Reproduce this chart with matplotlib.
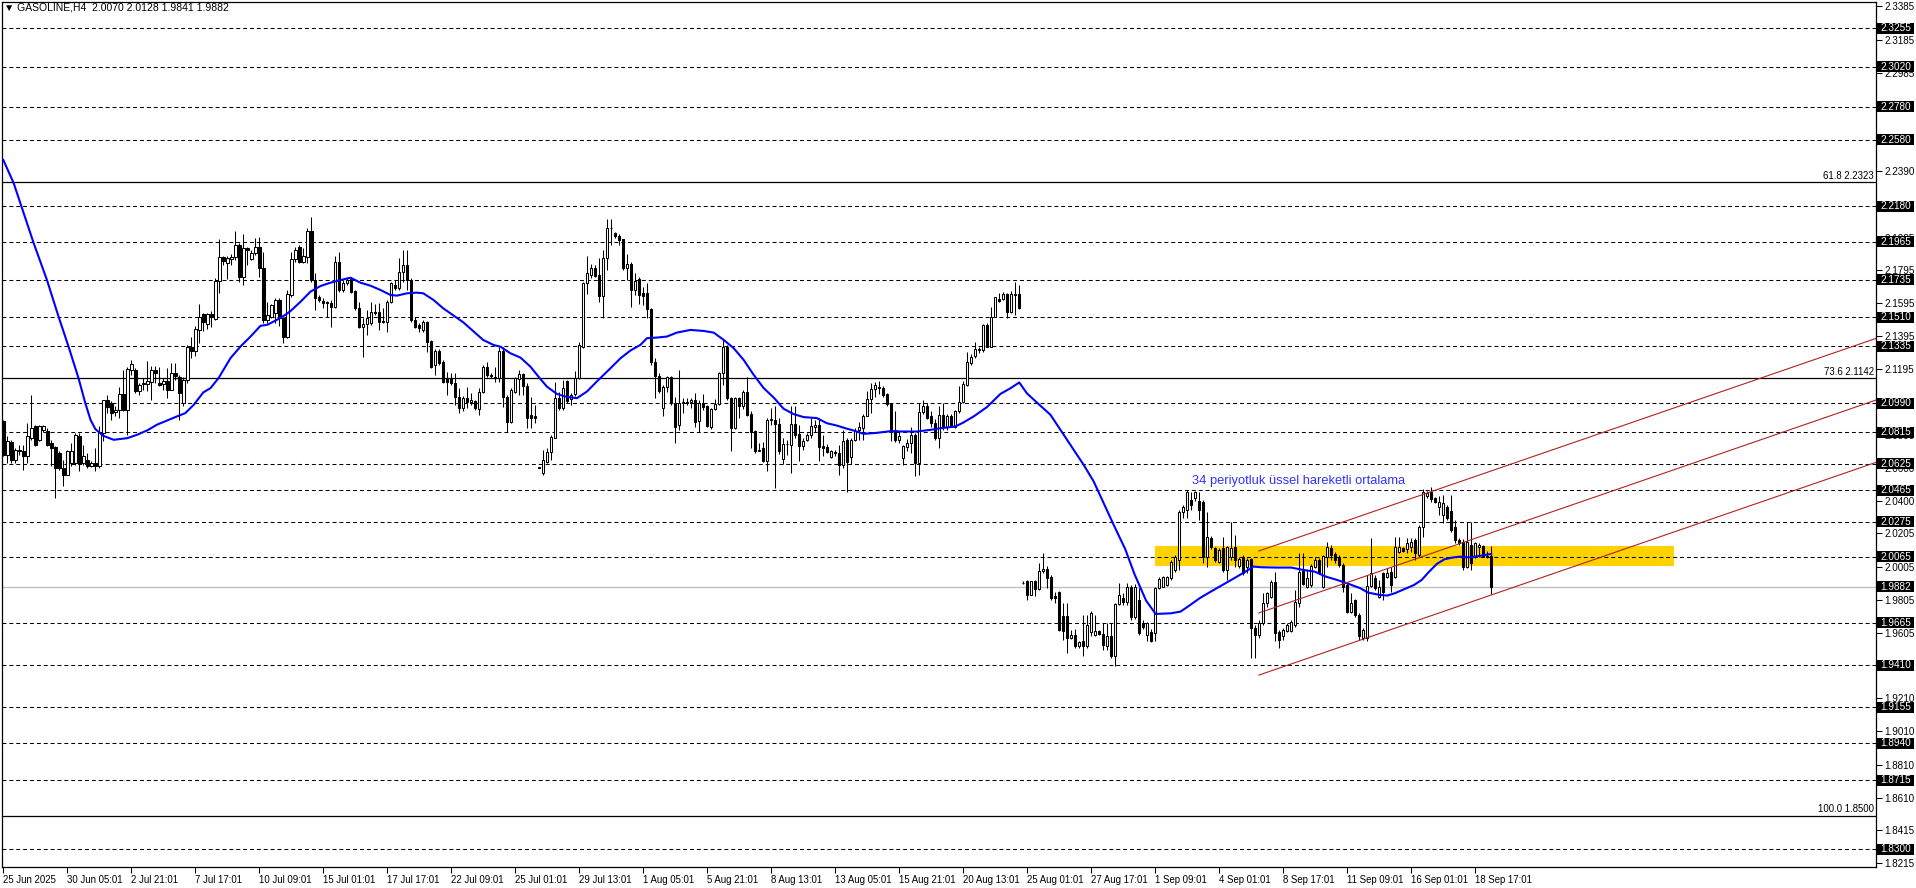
import numpy as np
import matplotlib
matplotlib.use("Agg")
import matplotlib.pyplot as plt
from matplotlib.patches import Rectangle
from matplotlib.transforms import blended_transform_factory

plt.rcParams['font.family'] = ['Liberation Sans', 'DejaVu Sans']

# H4 candles, one entry per bar
opens = [
    2.0881, 2.0680, 2.0754, 2.0650, 2.0710, 2.0704, 2.0670, 2.0780, 2.0851, 2.0770,
    2.0827, 2.0825, 2.0750, 2.0724, 2.0690, 2.0599, 2.0559, 2.0630, 2.0630, 2.0794,
    2.0630, 2.0650, 2.0614, 2.0630, 2.0610, 2.0810, 2.1012, 2.0992, 2.0937, 2.0951,
    2.1046, 2.0951, 2.1192, 2.1192, 2.1062, 2.1106, 2.1106, 2.1118, 2.1192, 2.1112,
    2.1106, 2.1126, 2.1068, 2.1172, 2.1150, 2.0991, 2.1132, 2.1333, 2.1303, 2.1434,
    2.1528, 2.1470, 2.1528, 2.1498, 2.1731, 2.1872, 2.1836, 2.1862, 2.1876, 2.1946,
    2.1755, 2.1930, 2.1862, 2.1896, 2.1932, 2.1805, 2.1494, 2.1514, 2.1534, 2.1614,
    2.1504, 2.1392, 2.1644, 2.1859, 2.1935, 2.1845, 2.1875, 2.2030, 2.1734, 2.1634,
    2.1608, 2.1599, 2.1597, 2.1569, 2.1845, 2.1674, 2.1714, 2.1744, 2.1668, 2.1567,
    2.1453, 2.1467, 2.1473, 2.1543, 2.1543, 2.1487, 2.1479, 2.1599, 2.1704, 2.1688,
    2.1784, 2.1825, 2.1734, 2.1493, 2.1463, 2.1433, 2.1479, 2.1366, 2.1221, 2.1306,
    2.1242, 2.1145, 2.1145, 2.1111, 2.1031, 2.0964, 2.1024, 2.1000, 2.1004, 2.0956,
    2.1057, 2.1211, 2.1161, 2.1151, 2.1141, 2.1306, 2.1031, 2.0880, 2.1061, 2.1137,
    2.1165, 2.1097, 2.0920, 2.0914, 2.0603, 2.0568, 2.0639, 2.0695, 2.0783, 2.1021,
    2.0960, 2.1126, 2.1017, 2.1045, 2.1142, 2.1333, 2.1715, 2.1765, 2.1809, 2.1765,
    2.1640, 2.1865, 2.2046, 2.2016, 2.2002, 2.1980, 2.1805, 2.1829, 2.1674, 2.1741,
    2.1654, 2.1654, 2.1560, 2.1238, 2.1158, 2.0961, 2.1091, 2.1148, 2.0991, 2.0860,
    2.0991, 2.0999, 2.0997, 2.1011, 2.0884, 2.0991, 2.0971, 2.0850, 2.0957, 2.0985,
    2.1172, 2.1333, 2.1021, 2.0844, 2.1021, 2.0971, 2.1061, 2.0925, 2.0824, 2.0704,
    2.0720, 2.0643, 2.0891, 2.0891, 2.0864, 2.0655, 2.0744, 2.0740, 2.0864, 2.0804,
    2.0730, 2.0770, 2.0796, 2.0850, 2.0860, 2.0730, 2.0724, 2.0668, 2.0696, 2.0690,
    2.0615, 2.0770, 2.0669, 2.0770, 2.0830, 2.0840, 2.0915, 2.1015, 2.1075, 2.1088,
    2.1082, 2.1047, 2.0991, 2.0830, 2.0770, 2.0659, 2.0726, 2.0750, 2.0796, 2.0633,
    2.0935, 2.0975, 2.0911, 2.0874, 2.0780, 2.0921, 2.0850, 2.0911, 2.0850, 2.0941,
    2.1001, 2.1102, 2.1232, 2.1276, 2.1309, 2.1309, 2.1463, 2.1333, 2.1514, 2.1618,
    2.1618, 2.1650, 2.1544, 2.1650, 2.1650, 1.9906, 1.9916, 1.9835, 1.9916, 1.9870,
    1.9976, 1.9990, 1.9942, 1.9825, 1.9849, 1.9705, 1.9705, 1.9574, 1.9594, 1.9524,
    1.9554, 1.9524, 1.9608, 1.9594, 1.9614, 1.9600, 1.9524, 1.9588, 1.9464, 1.9781,
    1.9815, 1.9789, 1.9884, 1.9703, 1.9804, 1.9667, 1.9593, 1.9613, 1.9607, 1.9878,
    1.9884, 1.9892, 1.9934, 1.9985, 2.0045, 2.0336, 2.0346, 2.0407, 2.0417, 2.0403,
    2.0397, 2.0065, 2.0176, 2.0116, 2.0035, 2.0116, 1.9985, 2.0065, 2.0121, 2.0009,
    2.0065, 2.0001, 2.0049, 1.9633, 1.9593, 1.9663, 1.9784, 1.9824, 1.9914, 1.9613,
    1.9583, 1.9619, 1.9619, 1.9653, 1.9784, 1.9979, 1.9884, 1.9894, 2.0001, 2.0045,
    1.9884, 2.0065, 2.0115, 2.0081, 2.0065, 2.0015, 1.9894, 1.9733, 1.9804, 1.9713,
    1.9573, 1.9573, 1.9888, 1.9935, 1.9824, 1.9965, 1.9945, 1.9975, 1.9945, 2.0095,
    2.0115, 2.0109, 2.0125, 2.0166, 2.0075, 2.0246, 2.0431, 2.0457, 2.0417, 2.0367,
    2.0316, 2.0367, 2.0342, 2.0246, 2.0166, 2.0156, 2.0005, 2.0136, 2.0065, 2.0121,
    2.0129, 2.0065, 2.0070,
]
highs = [
    2.0891, 2.0790, 2.0770, 2.0720, 2.0740, 2.0740, 2.0871, 2.1042, 2.0861, 2.0861,
    2.0861, 2.0841, 2.0770, 2.0730, 2.0700, 2.0650, 2.0710, 2.0750, 2.0810, 2.0810,
    2.0740, 2.0690, 2.0640, 2.0720, 2.0851, 2.1012, 2.1042, 2.1002, 2.0971, 2.1088,
    2.1192, 2.1212, 2.1249, 2.1202, 2.1112, 2.1142, 2.1243, 2.1217, 2.1218, 2.1209,
    2.1142, 2.1203, 2.1233, 2.1233, 2.1160, 2.1152, 2.1343, 2.1393, 2.1454, 2.1590,
    2.1534, 2.1538, 2.1550, 2.1745, 2.1980, 2.1880, 2.1880, 2.1892, 2.2031, 2.1956,
    2.2012, 2.1936, 2.1916, 2.1986, 2.1992, 2.1906, 2.1604, 2.1590, 2.1624, 2.1624,
    2.1514, 2.1674, 2.1905, 2.1931, 2.1945, 2.1925, 2.2046, 2.2116, 2.1774, 2.1644,
    2.1628, 2.1608, 2.1613, 2.1879, 2.1905, 2.1734, 2.1754, 2.1754, 2.1674, 2.1603,
    2.1503, 2.1553, 2.1599, 2.1587, 2.1593, 2.1563, 2.1613, 2.1724, 2.1734, 2.1865,
    2.1915, 2.1915, 2.1744, 2.1513, 2.1473, 2.1493, 2.1487, 2.1372, 2.1316, 2.1316,
    2.1252, 2.1181, 2.1171, 2.1171, 2.1081, 2.1034, 2.1091, 2.1051, 2.1010, 2.1081,
    2.1221, 2.1242, 2.1171, 2.1211, 2.1332, 2.1332, 2.1041, 2.1081, 2.1151, 2.1191,
    2.1171, 2.1111, 2.1031, 2.0980, 2.0605, 2.0709, 2.0723, 2.0799, 2.1121, 2.1061,
    2.1131, 2.1132, 2.1055, 2.1188, 2.1363, 2.1725, 2.1879, 2.1829, 2.1825, 2.1865,
    2.1916, 2.2103, 2.2103, 2.2026, 2.2010, 2.1982, 2.1889, 2.1845, 2.1775, 2.1755,
    2.1695, 2.1715, 2.1564, 2.1262, 2.1172, 2.1102, 2.1154, 2.1158, 2.1031, 2.1192,
    2.1025, 2.1025, 2.1025, 2.1051, 2.1011, 2.1047, 2.0981, 2.0961, 2.1015, 2.1182,
    2.1373, 2.1343, 2.1031, 2.1031, 2.1031, 2.1071, 2.1146, 2.0941, 2.0830, 2.0750,
    2.0756, 2.0901, 2.0961, 2.0971, 2.0901, 2.0780, 2.0770, 2.0971, 2.0971, 2.0860,
    2.0780, 2.0810, 2.0901, 2.0891, 2.0901, 2.0800, 2.0744, 2.0710, 2.0710, 2.0740,
    2.0830, 2.0780, 2.0780, 2.0840, 2.0880, 2.0927, 2.1065, 2.1112, 2.1116, 2.1122,
    2.1092, 2.1051, 2.0995, 2.0941, 2.0820, 2.0740, 2.0774, 2.0850, 2.0810, 2.0991,
    2.1011, 2.0995, 2.0941, 2.0895, 2.0971, 2.0991, 2.0927, 2.0927, 2.0951, 2.1092,
    2.1122, 2.1297, 2.1288, 2.1363, 2.1329, 2.1470, 2.1473, 2.1574, 2.1634, 2.1654,
    2.1664, 2.1658, 2.1670, 2.1725, 2.1705, 1.9916, 1.9926, 1.9920, 1.9926, 2.0026,
    2.0087, 2.0006, 1.9956, 1.9849, 1.9855, 1.9785, 1.9785, 1.9624, 1.9628, 1.9558,
    1.9715, 1.9715, 1.9735, 1.9715, 1.9624, 1.9664, 1.9664, 1.9664, 1.9785, 1.9906,
    1.9845, 1.9904, 1.9894, 1.9900, 1.9874, 1.9680, 1.9670, 1.9630, 1.9884, 1.9944,
    1.9950, 1.9950, 2.0045, 2.0075, 2.0346, 2.0377, 2.0467, 2.0457, 2.0463, 2.0457,
    2.0407, 2.0336, 2.0190, 2.0126, 2.0115, 2.0186, 2.0129, 2.0276, 2.0196, 2.0065,
    2.0075, 2.0055, 2.0055, 1.9653, 1.9683, 1.9844, 1.9854, 1.9924, 1.9975, 1.9623,
    1.9633, 1.9663, 1.9683, 1.9864, 2.0085, 2.0085, 1.9985, 2.0019, 2.0065, 2.0055,
    2.0075, 2.0156, 2.0136, 2.0095, 2.0075, 2.0025, 1.9904, 1.9844, 1.9808, 1.9723,
    1.9633, 1.9955, 2.0176, 1.9955, 1.9924, 1.9975, 1.9995, 2.0005, 2.0186, 2.0186,
    2.0125, 2.0176, 2.0176, 2.0176, 2.0256, 2.0471, 2.0461, 2.0483, 2.0427, 2.0431,
    2.0437, 2.0377, 2.0437, 2.0286, 2.0176, 2.0170, 2.0276, 2.0276, 2.0156, 2.0146,
    2.0136, 2.0100, 2.0128,
]
lows = [
    2.0670, 2.0630, 2.0630, 2.0630, 2.0680, 2.0589, 2.0630, 2.0770, 2.0730, 2.0760,
    2.0820, 2.0730, 2.0610, 2.0419, 2.0589, 2.0489, 2.0559, 2.0610, 2.0620, 2.0579,
    2.0620, 2.0599, 2.0605, 2.0579, 2.0599, 2.0760, 2.0931, 2.0891, 2.0911, 2.0901,
    2.0941, 2.0800, 2.1162, 2.1052, 2.1042, 2.1072, 2.1062, 2.1012, 2.1112, 2.1092,
    2.1072, 2.1022, 2.1068, 2.1132, 2.0891, 2.0971, 2.1112, 2.1263, 2.1273, 2.1357,
    2.1424, 2.1438, 2.1448, 2.1494, 2.1655, 2.1826, 2.1739, 2.1826, 2.1856, 2.1725,
    2.1705, 2.1826, 2.1856, 2.1886, 2.1755, 2.1474, 2.1474, 2.1504, 2.1474, 2.1454,
    2.1353, 2.1382, 2.1634, 2.1845, 2.1835, 2.1835, 2.1835, 2.1724, 2.1553, 2.1599,
    2.1563, 2.1513, 2.1453, 2.1563, 2.1664, 2.1664, 2.1704, 2.1654, 2.1553, 2.1443,
    2.1272, 2.1402, 2.1463, 2.1523, 2.1433, 2.1473, 2.1423, 2.1593, 2.1674, 2.1674,
    2.1724, 2.1674, 2.1483, 2.1443, 2.1423, 2.1423, 2.1302, 2.1201, 2.1161, 2.1221,
    2.1111, 2.1041, 2.1101, 2.0980, 2.0930, 2.0944, 2.0960, 2.0980, 2.0950, 2.0920,
    2.1051, 2.1151, 2.1145, 2.1121, 2.1121, 2.0970, 2.0816, 2.0870, 2.1051, 2.1041,
    2.1041, 2.0840, 2.0840, 2.0870, 2.0597, 2.0558, 2.0629, 2.0649, 2.0779, 2.0950,
    2.0950, 2.0991, 2.0981, 2.1037, 2.1138, 2.1323, 2.1648, 2.1745, 2.1755, 2.1604,
    2.1504, 2.1795, 2.1946, 2.1986, 2.1946, 2.1795, 2.1735, 2.1574, 2.1644, 2.1588,
    2.1584, 2.1504, 2.1222, 2.1021, 2.1051, 2.0911, 2.1061, 2.0981, 2.0750, 2.0830,
    2.0931, 2.0981, 2.0961, 2.0850, 2.0816, 2.0951, 2.0850, 2.0836, 2.0951, 2.0981,
    2.1102, 2.1011, 2.0704, 2.0836, 2.0901, 2.0957, 2.0911, 2.0720, 2.0690, 2.0700,
    2.0635, 2.0579, 2.0860, 2.0478, 2.0684, 2.0623, 2.0680, 2.0569, 2.0780, 2.0640,
    2.0710, 2.0760, 2.0780, 2.0820, 2.0640, 2.0670, 2.0690, 2.0659, 2.0670, 2.0559,
    2.0599, 2.0458, 2.0625, 2.0760, 2.0770, 2.0766, 2.0911, 2.0931, 2.1031, 2.1047,
    2.1027, 2.0971, 2.0760, 2.0754, 2.0750, 2.0619, 2.0700, 2.0690, 2.0549, 2.0559,
    2.0927, 2.0895, 2.0850, 2.0766, 2.0720, 2.0830, 2.0830, 2.0850, 2.0840, 2.0931,
    2.0995, 2.1092, 2.1222, 2.1262, 2.1293, 2.1301, 2.1329, 2.1329, 2.1510, 2.1604,
    2.1614, 2.1504, 2.1534, 2.1524, 2.1558, 1.9902, 1.9805, 1.9831, 1.9825, 1.9865,
    1.9966, 1.9876, 1.9805, 1.9785, 1.9614, 1.9564, 1.9484, 1.9568, 1.9514, 1.9514,
    1.9464, 1.9514, 1.9584, 1.9584, 1.9594, 1.9504, 1.9504, 1.9453, 1.9403, 1.9775,
    1.9775, 1.9775, 1.9683, 1.9690, 1.9593, 1.9630, 1.9553, 1.9547, 1.9553, 1.9870,
    1.9880, 1.9885, 1.9925, 1.9975, 1.9985, 2.0300, 2.0300, 2.0346, 2.0400, 2.0286,
    2.0025, 2.0005, 2.0110, 2.0035, 2.0025, 1.9975, 1.9924, 2.0045, 2.0005, 1.9995,
    1.9955, 1.9965, 1.9452, 1.9452, 1.9573, 1.9653, 1.9764, 1.9814, 1.9553, 1.9512,
    1.9563, 1.9609, 1.9609, 1.9643, 1.9764, 1.9894, 1.9874, 1.9884, 1.9995, 1.9960,
    1.9874, 2.0005, 2.0045, 2.0025, 2.0005, 1.9854, 1.9723, 1.9723, 1.9703, 1.9563,
    1.9563, 1.9553, 1.9884, 1.9864, 1.9814, 1.9804, 1.9935, 1.9854, 1.9935, 2.0085,
    2.0095, 2.0085, 2.0095, 2.0045, 2.0065, 2.0186, 2.0421, 2.0397, 2.0387, 2.0316,
    2.0266, 2.0286, 2.0216, 2.0146, 2.0136, 1.9985, 1.9995, 1.9985, 2.0055, 2.0065,
    2.0061, 2.0055, 1.9841,
]
closes = [
    2.0680, 2.0760, 2.0650, 2.0710, 2.0700, 2.0670, 2.0790, 2.0841, 2.0740, 2.0851,
    2.0855, 2.0740, 2.0720, 2.0599, 2.0599, 2.0559, 2.0700, 2.0700, 2.0800, 2.0630,
    2.0670, 2.0610, 2.0630, 2.0610, 2.0815, 2.1012, 2.0967, 2.0931, 2.0951, 2.1046,
    2.0951, 2.1198, 2.1227, 2.1062, 2.1102, 2.1112, 2.1122, 2.1192, 2.1176, 2.1102,
    2.1126, 2.1072, 2.1172, 2.1158, 2.1050, 2.1132, 2.1333, 2.1303, 2.1438, 2.1514,
    2.1478, 2.1528, 2.1510, 2.1731, 2.1872, 2.1852, 2.1870, 2.1876, 2.1946, 2.1755,
    2.1930, 2.1916, 2.1898, 2.1936, 2.1805, 2.1494, 2.1524, 2.1584, 2.1614, 2.1504,
    2.1393, 2.1648, 2.1859, 2.1915, 2.1845, 2.1879, 2.2030, 2.1734, 2.1628, 2.1613,
    2.1593, 2.1593, 2.1569, 2.1845, 2.1674, 2.1714, 2.1734, 2.1664, 2.1563, 2.1453,
    2.1467, 2.1507, 2.1543, 2.1533, 2.1483, 2.1479, 2.1599, 2.1714, 2.1684, 2.1784,
    2.1825, 2.1734, 2.1493, 2.1453, 2.1443, 2.1479, 2.1362, 2.1211, 2.1306, 2.1232,
    2.1121, 2.1121, 2.1111, 2.1031, 2.0964, 2.1024, 2.1000, 2.1010, 2.0960, 2.1057,
    2.1211, 2.1161, 2.1155, 2.1145, 2.1306, 2.1031, 2.0880, 2.1071, 2.1141, 2.1165,
    2.1097, 2.0904, 2.0904, 2.0900, 2.0599, 2.0649, 2.0699, 2.0789, 2.1021, 2.0960,
    2.1081, 2.1005, 2.1041, 2.1142, 2.1343, 2.1715, 2.1775, 2.1805, 2.1761, 2.1640,
    2.1865, 2.2050, 2.2050, 2.2002, 2.1976, 2.1805, 2.1829, 2.1674, 2.1729, 2.1644,
    2.1640, 2.1560, 2.1238, 2.1158, 2.1065, 2.1091, 2.1148, 2.0991, 2.0850, 2.0991,
    2.1001, 2.0991, 2.1011, 2.0880, 2.0991, 2.0965, 2.0856, 2.0957, 2.0985, 2.1172,
    2.1333, 2.1021, 2.0844, 2.1021, 2.0971, 2.1061, 2.0917, 2.0820, 2.0704, 2.0710,
    2.0643, 2.0891, 2.0897, 2.0864, 2.0700, 2.0744, 2.0744, 2.0864, 2.0800, 2.0730,
    2.0764, 2.0796, 2.0856, 2.0860, 2.0724, 2.0720, 2.0696, 2.0700, 2.0688, 2.0615,
    2.0760, 2.0639, 2.0766, 2.0826, 2.0846, 2.0915, 2.1015, 2.1075, 2.1102, 2.1082,
    2.1041, 2.0985, 2.0830, 2.0770, 2.0790, 2.0730, 2.0750, 2.0796, 2.0633, 2.0937,
    2.0971, 2.0901, 2.0870, 2.0780, 2.0921, 2.0850, 2.0911, 2.0860, 2.0941, 2.1001,
    2.1108, 2.1242, 2.1268, 2.1317, 2.1317, 2.1463, 2.1333, 2.1514, 2.1630, 2.1610,
    2.1650, 2.1544, 2.1650, 2.1644, 2.1564, 1.9906, 1.9835, 1.9916, 1.9870, 1.9976,
    1.9990, 1.9936, 1.9815, 1.9815, 1.9624, 1.9614, 1.9574, 1.9594, 1.9524, 1.9548,
    1.9524, 1.9654, 1.9725, 1.9614, 1.9600, 1.9534, 1.9584, 1.9464, 1.9781, 1.9835,
    1.9789, 1.9884, 1.9703, 1.9884, 1.9603, 1.9643, 1.9663, 1.9553, 1.9878, 1.9928,
    1.9940, 1.9940, 2.0035, 2.0061, 2.0336, 2.0367, 2.0457, 2.0377, 2.0453, 2.0346,
    2.0065, 2.0182, 2.0126, 2.0045, 2.0105, 1.9985, 2.0121, 2.0119, 2.0045, 2.0049,
    1.9965, 2.0045, 1.9633, 1.9593, 1.9663, 1.9784, 1.9844, 1.9914, 1.9607, 1.9563,
    1.9623, 1.9653, 1.9673, 1.9794, 1.9975, 1.9900, 1.9934, 2.0009, 2.0045, 1.9969,
    2.0069, 2.0121, 2.0075, 2.0045, 2.0015, 1.9884, 1.9733, 1.9784, 1.9713, 1.9583,
    1.9623, 1.9888, 1.9965, 1.9874, 1.9884, 1.9854, 1.9965, 1.9894, 2.0121, 2.0121,
    2.0101, 2.0146, 2.0156, 2.0085, 2.0246, 2.0457, 2.0447, 2.0411, 2.0397, 2.0397,
    2.0387, 2.0296, 2.0226, 2.0166, 2.0146, 2.0005, 2.0156, 2.0025, 2.0146, 2.0136,
    2.0065, 2.0070, 1.9882,
]

# 34-period EMA (bar index, value)
ema_bars = [
    0, 2.6, 7.6, 10.9, 13.8, 16.3, 18.8, 20.5, 21.8, 23,
    25, 27.6, 31, 33.4, 36, 38.4, 41, 43.4, 45.5, 47.6,
    50, 51.8, 53.8, 56.8, 59.3, 61.8, 64.3, 66, 68.4, 70.5,
    71.8, 74.3, 76.8, 79.3, 81.8, 84.3, 86.8, 89.3, 91.8, 94.3,
    96.8, 98.4, 100.9, 103.4, 105, 107.6, 110, 112.6, 115, 117.6,
    120, 122.6, 124.3, 126.8, 129.3, 131.8, 133.8, 135.9, 138.4, 140.5,
    143.4, 145.9, 148.4, 151.8, 154.3, 156.8, 159.3, 160.9, 163.4, 165.9,
    168.4, 171.8, 175.1, 177.6, 180.1, 182.6, 185.1, 187.6, 190.1, 192.6,
    195.1, 197.6, 200.1, 203.4, 205.9, 208.4, 210.5, 212.6, 215.1, 218.4,
    221.8, 225.1, 228.4, 231.8, 234.3, 238, 240, 242.6, 245.9, 249.3,
    251.8, 254, 255.9, 258.4, 261.8, 264.3, 267.6, 270.1, 272.6, 275.1,
    277.6, 280.5, 282.8, 285.7, 288.1, 291.9, 294.3, 296.2, 299.1, 301.9,
    304.8, 307.7, 310.6, 312.5, 314.4, 318.2, 322, 324.9, 327.8, 330.7,
    333.5, 336.4, 339.3, 341.2, 344.1, 346, 347.9, 350.8, 352.7, 354.6,
    356.5, 358.4, 360.3, 362.2, 364.2, 366.1, 368, 369.9, 372,
]
ema_vals = [
    2.2459, 2.2318, 2.1956, 2.1735, 2.1514, 2.1333, 2.1142, 2.0991, 2.0891, 2.0835,
    2.0794, 2.0770, 2.0780, 2.0800, 2.0827, 2.0861, 2.0887, 2.0911, 2.0931, 2.0981,
    2.1056, 2.1082, 2.1142, 2.1263, 2.1333, 2.1393, 2.1458, 2.1464, 2.1494, 2.1524,
    2.1547, 2.1603, 2.1664, 2.1698, 2.1718, 2.1734, 2.1748, 2.1718, 2.1700, 2.1674,
    2.1644, 2.1640, 2.1654, 2.1658, 2.1654, 2.1613, 2.1563, 2.1519, 2.1479, 2.1423,
    2.1372, 2.1342, 2.1332, 2.1292, 2.1266, 2.1211, 2.1151, 2.1091, 2.1047, 2.1031,
    2.1021, 2.1061, 2.1122, 2.1202, 2.1262, 2.1309, 2.1343, 2.1383, 2.1387, 2.1393,
    2.1417, 2.1433, 2.1427, 2.1417, 2.1373, 2.1323, 2.1252, 2.1162, 2.1082, 2.1025,
    2.0957, 2.0925, 2.0907, 2.0901, 2.0870, 2.0856, 2.0840, 2.0826, 2.0806, 2.0812,
    2.0822, 2.0820, 2.0820, 2.0830, 2.0840, 2.0850, 2.0874, 2.0911, 2.0967, 2.1047,
    2.1081, 2.1116, 2.1051, 2.0995, 2.0921, 2.0830, 2.0710, 2.0619, 2.0519, 2.0388,
    2.0257, 2.0110, 1.9960, 1.9800, 1.9719, 1.9723, 1.9733, 1.9764, 1.9814, 1.9854,
    1.9894, 1.9934, 1.9975, 2.0005, 2.0001, 1.9999, 1.9999, 1.9985, 1.9975, 1.9944,
    1.9924, 1.9900, 1.9874, 1.9848, 1.9834, 1.9830, 1.9844, 1.9874, 1.9894, 1.9924,
    1.9975, 2.0021, 2.0049, 2.0059, 2.0065, 2.0061, 2.0065, 2.0073, 2.0081,
]

date_labels = [
    '25 Jun 2025', '30 Jun 05:01', '2 Jul 21:01', '7 Jul 17:01', '10 Jul 09:01',
    '15 Jul 01:01', '17 Jul 17:01', '22 Jul 09:01', '25 Jul 01:01', '29 Jul 13:01',
    '1 Aug 05:01', '5 Aug 21:01', '8 Aug 13:01', '13 Aug 05:01', '15 Aug 21:01',
    '20 Aug 13:01', '25 Aug 01:01', '27 Aug 17:01', '1 Sep 09:01', '4 Sep 01:01',
    '8 Sep 17:01', '11 Sep 09:01', '16 Sep 01:01', '18 Sep 17:01',
]
bars_per_label = 16

level_prices = [2.3255, 2.3020, 2.2780, 2.2580, 2.2180, 2.1965, 2.1735, 2.1510,
                2.1335, 2.0990, 2.0815, 2.0625, 2.0465, 2.0275, 2.0065, 1.9665,
                1.9410, 1.9155, 1.8940, 1.8715, 1.8300]
fib_prices = [2.2323, 2.1142, 1.8500]
fib_names = ['61.8', '73.6', '100.0']
axis_ticks = [2.3385, 2.3185, 2.2985, 2.2390, 2.1985, 2.1795, 2.1595, 2.1395,
              2.1195, 2.0800, 2.0600, 2.0400, 2.0205, 2.0005, 1.9805, 1.9605,
              1.9210, 1.9010, 1.8810, 1.8610, 1.8415, 1.8215]
bid_price = 1.9882

zone_bars = [287.9, 417.7]
zone_prices = [2.0008, 2.0129]
channel_bars = [313.9, 468.2]
channel_top = [2.0099, 2.1382]
channel_mid = [1.9725, 2.1010]
channel_low = [1.9350, 2.0634]
ema_note = '34 periyotluk üssel hareketli ortalama'

W, H = 1916, 888
fig = plt.figure(figsize=(W / 100, H / 100), dpi=100)
ax = fig.add_axes([2 / W, 21 / H, 1874 / W, 865 / H])
y0, y1 = 1.8192, 2.3412
ax.set_xlim(-0.33, 468.2)
ax.set_ylim(y0, y1)
px_per_unit = 865 / (y1 - y0)

o = np.array(opens)
h = np.array(highs)
l = np.array(lows)
c = np.array(closes)
x = np.arange(len(c))
up = c >= o
lo = np.minimum(o, c)
ht = np.maximum(np.abs(c - o), 0.00012)

# levels
for p in level_prices:
    ax.axhline(p, color='black', lw=0.75, ls=(0, (3.8, 2.8)), zorder=1)
for p in fib_prices:
    ax.axhline(p, color='black', lw=0.9, zorder=1)
ax.axhline(bid_price, color='#c0c0c0', lw=1.0, zorder=1)

ax.add_patch(Rectangle((zone_bars[0], zone_prices[0]), zone_bars[1] - zone_bars[0],
                       zone_prices[1] - zone_prices[0], facecolor='#ffd200',
                       edgecolor='none', zorder=0.8))

# candles
ax.vlines(x, l, h, color='black', lw=0.75, zorder=3)
ax.bar(x[up], ht[up], bottom=lo[up], width=0.6, facecolor='white',
       edgecolor='black', linewidth=0.75, zorder=4)
ax.bar(x[~up], ht[~up], bottom=lo[~up], width=0.6, facecolor='black',
       edgecolor='black', linewidth=0.75, zorder=4)

ax.plot(ema_bars, ema_vals, color='#0000ff', lw=1.5, zorder=5)

for ch in (channel_top, channel_mid, channel_low):
    ax.plot(channel_bars, ch, color='#b22222', lw=0.8, zorder=5)

ax.text(297.2, 2.0521, ema_note, color='#3232ff', fontsize=9.3,
        ha='left', va='center', zorder=6)

# fibo labels
for p, name in zip(fib_prices, fib_names):
    ax.text(0.9988, p + 1.5 / px_per_unit, f'{name} {p:.4f}',
            transform=blended_transform_factory(ax.transAxes, ax.transData),
            ha='right', va='bottom', fontsize=6.9, zorder=6)

# axes / ticks
for s in ax.spines.values():
    s.set_color('black')
    s.set_linewidth(0.9)
ax.yaxis.tick_right()
ax.set_yticks(axis_ticks)
ax.set_yticklabels([f'{t:.4f}' for t in axis_ticks])
ax.tick_params(axis='y', direction='out', length=4, width=0.75, pad=2,
               labelsize=7.1, colors='black')
ax.set_xticks(np.arange(len(date_labels)) * bars_per_label)
ax.set_xticklabels(date_labels)
ax.tick_params(axis='x', direction='out', length=4, width=0.75, pad=1.5,
               labelsize=6.9)
for lab in ax.get_xticklabels():
    lab.set_ha('left')

# price boxes on the right scale
tr = blended_transform_factory(ax.transAxes, ax.transData)
box_h = 11 / px_per_unit
box_w = 37 / 1874
for p in level_prices + [bid_price]:
    ax.add_patch(Rectangle((1.0006, p - box_h / 2), box_w, box_h, transform=tr,
                           facecolor='black', edgecolor='none', clip_on=False,
                           zorder=7))
    ax.text(1.0006 + box_w / 2, p, f'{p:.4f}', transform=tr, color='white',
            fontsize=7.2, ha='center', va='center', clip_on=False, zorder=8)

title = (f'▼ GASOLINE,H4  {opens[-1]:.4f} {highs[-1]:.4f} '
         f'{lows[-1]:.4f} {closes[-1]:.4f}')
fig.text(4 / W, 1 - 8 / H, title, fontsize=7.5, ha='left', va='center')

fig.savefig('out.png', dpi=100)
